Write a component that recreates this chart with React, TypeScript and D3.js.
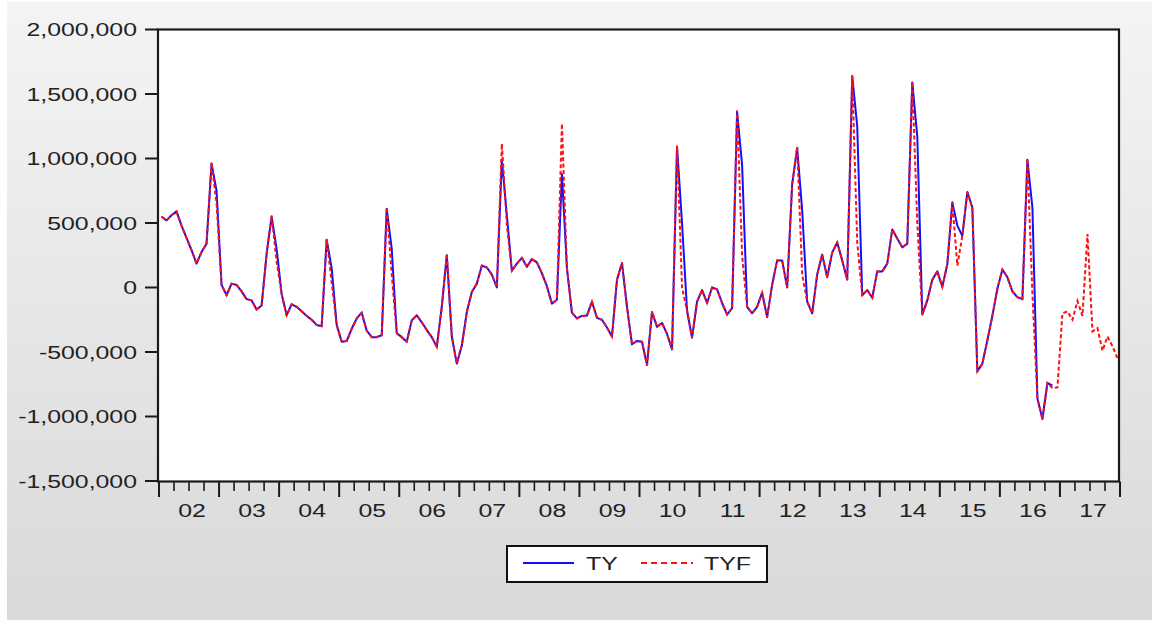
import React from "react";
import * as d3 from "d3";

// values in thousands, monthly from 2002M01
const TY: number[] = [
  550, 520, 560, 590, 480, 385, 290, 185, 275, 340, 960, 750,
  20, -60, 30, 20, -30, -90, -100, -170, -140, 260, 550, 300,
  -50, -215, -130, -150, -185, -220, -250, -290, -300, 370, 150, -290,
  -420, -415, -320, -240, -195, -335, -385, -385, -370, 610, 300, -355,
  -385, -420, -255, -215, -270, -330, -385, -460, -150, 250, -380, -590,
  -450, -190, -35, 30, 170, 155, 100, 0, 990, 560, 130, 185,
  230, 160, 220, 195, 110, 10, -125, -95, 880, 150, -195, -240,
  -220, -218, -110, -235, -250, -310, -380, 60, 190, -150, -440, -414,
  -420, -600, -190, -305, -275, -360, -480, 1090, 500, -180, -390, -110,
  -20, -120, 0, -15, -120, -210, -160, 1360, 950, -150, -200, -150,
  -40, -230, 20, 210, 210, 0, 800, 1080, 600, -110, -200, 100,
  255, 80, 270, 350, 210, 60, 1640, 1250, -60, -20, -80, 125,
  125, 185, 450, 380, 311, 340, 1590, 1170, -210, -100, 60, 125,
  5, 180, 660, 480, 400, 740, 620, -650, -590, -410, -220, -10,
  140, 80, -30, -75, -90, 990, 620, -860, -1020, -740, -760,
];

const TYF: number[] = [
  550, 520, 560, 590, 480, 385, 290, 185, 275, 340, 970, 650,
  20, -60, 30, 20, -30, -90, -100, -170, -140, 260, 557, 200,
  -50, -215, -130, -150, -185, -220, -250, -290, -300, 376, 40, -290,
  -420, -415, -320, -240, -195, -335, -385, -385, -370, 622, 100, -355,
  -385, -420, -255, -215, -270, -330, -385, -460, -150, 260, -380, -590,
  -450, -190, -35, 30, 170, 155, 100, 0, 1115, 480, 130, 185,
  230, 160, 220, 195, 110, 10, -125, -95, 1270, 150, -195, -240,
  -220, -218, -110, -235, -250, -310, -380, 60, 195, -150, -440, -414,
  -420, -605, -190, -305, -275, -360, -480, 1102, 0, -180, -390, -110,
  -20, -120, 0, -15, -120, -210, -160, 1374, 250, -150, -200, -150,
  -40, -230, 20, 210, 210, 0, 800, 1094, 100, -110, -200, 100,
  255, 80, 270, 350, 210, 60, 1646, 350, -60, -20, -80, 125,
  125, 185, 450, 380, 311, 340, 1594, 500, -210, -100, 60, 125,
  5, 180, 660, 170, 400, 740, 620, -650, -590, -410, -220, -10,
  140, 80, -30, -75, -90, 998, -50, -860, -1020, -740, -780,
  // forecast
  -775, -200, -185, -250, -105, -220, 415, -340, -315, -490, -380, -455, -550,
];

const Y_TICKS: number[] = [2000, 1500, 1000, 500, 0, -500, -1000, -1500];
const Y_LABELS: string[] = [
  "2,000,000", "1,500,000", "1,000,000", "500,000", "0",
  "-500,000", "-1,000,000", "-1,500,000",
];
const YEAR_LABELS: string[] = [
  "02", "03", "04", "05", "06", "07", "08", "09",
  "10", "11", "12", "13", "14", "15", "16", "17",
];
const N_MONTHS = 192;

const FONT = "'Liberation Sans', Arial, sans-serif";
const SX = 1.38;

export default function App() {
  const W = 1152, H = 641;
  const L = 158, R = 1119, T = 29.5, B = 481.5;
  const x = d3.scaleLinear().domain([0, N_MONTHS]).range([159, 1120]);
  const y = d3.scaleLinear().domain([-1500, 2000]).range([481, 29.5]);
  const line = d3
    .line<number>()
    .x((_, i) => x(i + 0.5))
    .y((d) => y(d));

  const monthTicks = d3.range(0, N_MONTHS + 1, 3);

  return (
    <svg
      width={W}
      height={H}
      style={{ position: "absolute", left: 0, top: 0, display: "block" }}
      fontFamily={FONT}
    >
      <defs>
        <linearGradient id="bg" x1="0" y1="0" x2="0" y2="1">
          <stop offset="0" stopColor="#f4f4f4" />
          <stop offset="1" stopColor="#d9d9d9" />
        </linearGradient>
        <clipPath id="plotclip">
          <rect x={L} y={T} width={R - L} height={B - T} />
        </clipPath>
      </defs>
      <rect x={0} y={0} width={W} height={H} fill="#ffffff" />
      <rect x={7} y={2} width={W - 7} height={618} fill="url(#bg)" />
      <rect x={L} y={T} width={R - L} height={B - T} fill="#ffffff" />

      {/* data lines */}
      <g clipPath="url(#plotclip)">
        <path d={line(TY) || ""} fill="none" stroke="#1010ff" strokeWidth={2} strokeLinejoin="round" />
        <path
          d={line(TYF) || ""}
          fill="none"
          stroke="#ff1010"
          strokeWidth={2}
          strokeDasharray="4,2.5"
        />
      </g>

      {/* frame */}
      <rect x={L} y={T} width={R - L} height={B - T} fill="none" stroke="#1a1a1a" strokeWidth={2.2} />

      {/* y axis ticks + labels */}
      {Y_TICKS.map((v, i) => (
        <g key={"y" + i}>
          <line x1={145} x2={L} y1={y(v)} y2={y(v)} stroke="#1a1a1a" strokeWidth={2} />
          <text
            transform={`translate(137,${y(v) + 6.5}) scale(${SX},1)`}
            textAnchor="end"
            fontSize={18}
            fill="#222"
          >
            {Y_LABELS[i]}
          </text>
        </g>
      ))}

      {/* x axis ticks */}
      {monthTicks.map((m) => (
        <line
          key={"m" + m}
          x1={x(m)}
          x2={x(m)}
          y1={B}
          y2={m % 12 === 0 ? 497 : 491}
          stroke="#1a1a1a"
          strokeWidth={m % 12 === 0 ? 2 : 1.6}
        />
      ))}
      {YEAR_LABELS.map((lab, k) => (
        <text
          key={"yl" + k}
          transform={`translate(${x(k * 12 + 6) + 3},517) scale(${SX},1)`}
          textAnchor="middle"
          fontSize={18}
          fill="#222"
        >
          {lab}
        </text>
      ))}

      {/* legend */}
      <rect x={507} y={546} width={260} height={36} fill="#ffffff" stroke="#111" strokeWidth={2} />
      <line x1={523} x2={574} y1={563} y2={563} stroke="#1010ff" strokeWidth={1.8} />
      <text transform={`translate(586,570) scale(${SX},1)`} fontSize={18} fill="#222">
        TY
      </text>
      <line
        x1={641}
        x2={693}
        y1={563}
        y2={563}
        stroke="#ff1010"
        strokeWidth={1.9}
        strokeDasharray="6,4"
      />
      <text transform={`translate(704,570) scale(${SX},1)`} fontSize={18} fill="#222">
        TYF
      </text>
    </svg>
  );
}
